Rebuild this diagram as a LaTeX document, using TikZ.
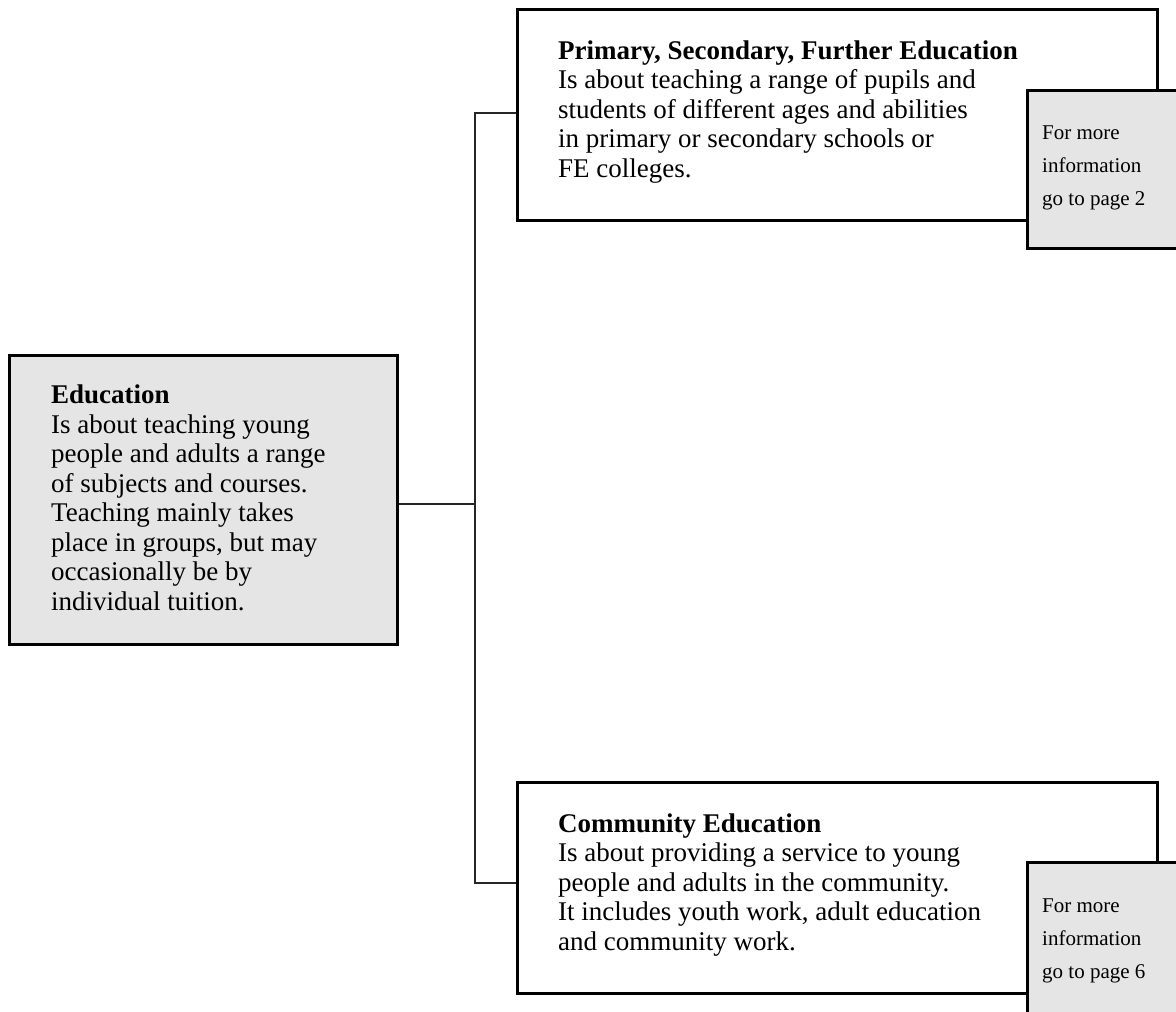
\documentclass[tikz,border=0pt]{standalone}
\usepackage{fontspec}
\setmainfont{Liberation Serif}
\definecolor{boxgrey}{HTML}{E5E5E5}
\begin{document}
\begin{tikzpicture}[
    x=1pt, y=-1pt,
    box/.style={draw, line width=2.6pt, anchor=north west, inner sep=0pt,
      minimum width=640pt, minimum height=211pt},
    greybox/.style={box, fill=boxgrey, minimum width=170pt, minimum height=158pt},
    txt/.style={anchor=base west, inner sep=0pt, align=left,
      font=\fontsize{27}{29.5}\selectfont},
    smalltxt/.style={txt, font=\fontsize{21}{33}\selectfont},
    link/.style={draw=black!85, line width=2.2pt}
    ]
    \useasboundingbox (0,0) rectangle (1176,1012);
    \node[box, fill=boxgrey, minimum width=388pt, minimum height=289pt] (edu) at (8,354) {};
    \node[txt] (edutxt) at (51,610) {\textbf{Education}\\Is about teaching young\\people and adults a range\\of subjects and courses.\\Teaching mainly takes\\place in groups, but may\\occasionally be by\\individual tuition.};
    \node[box] (primary) at (516,8) {};
    \node[txt] (primarytxt) at (558,177) {\textbf{Primary, Secondary, Further Education}\\Is about teaching a range of pupils and\\students of different ages and abilities\\in primary or secondary schools or\\FE colleges.};
    \node[greybox] (primaryinfo) at (1026,89) {};
    \node[smalltxt] (primaryinfotxt) at (1042,205) {For more\\information\\go to page 2};
    \node[box] (comm) at (516,781) {};
    \node[txt] (commtxt) at (558,950) {\textbf{Community Education}\\Is about providing a service to young\\people and adults in the community.\\It includes youth work, adult education\\and community work.};
    \node[greybox] (comminfo) at (1026,861) {};
    \node[smalltxt] (comminfotxt) at (1042,978) {For more\\information\\go to page 6};
    \coordinate (hub) at (475,504);
    \coordinate (jtop) at (475,113);
    \coordinate (jbot) at (475,883);
    \draw[link] (edu.east |- hub) -- (hub);
    \draw[link] (primary.west |- jtop) -- (jtop) -- (jbot) -- (comm.west |- jbot);
\end{tikzpicture}
\end{document}
